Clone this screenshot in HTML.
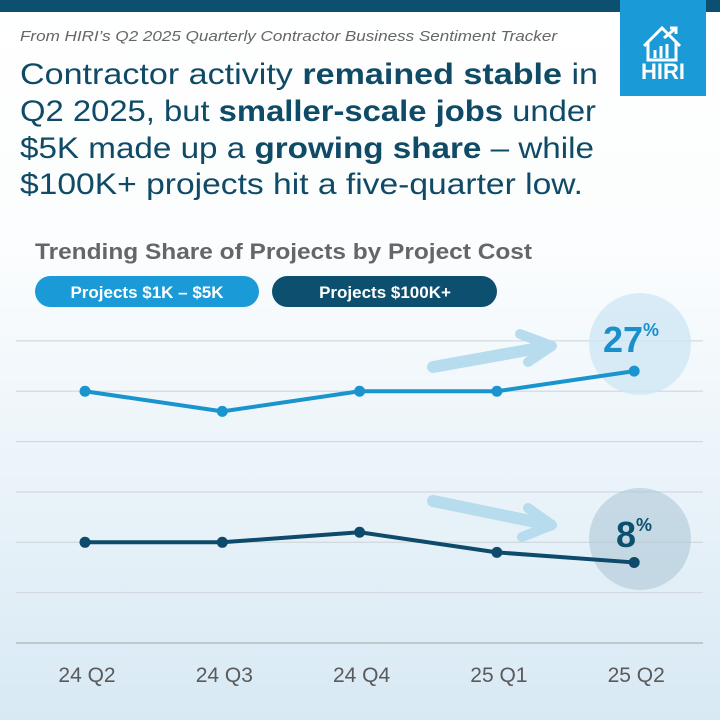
<!DOCTYPE html>
<html><head><meta charset="utf-8"><style>
body{margin:0;width:720px;height:720px;overflow:hidden}
svg{display:block;font-family:"Liberation Sans",sans-serif}
</style></head><body>
<svg id="chart" width="720" height="720" viewBox="0 0 720 720" xmlns="http://www.w3.org/2000/svg">
<defs>
<linearGradient id="bg" x1="0" y1="0" x2="0" y2="1">
<stop offset="0" stop-color="#ffffff"/><stop offset="0.35" stop-color="#fbfdfe"/><stop offset="1" stop-color="#d8e9f4"/>
</linearGradient>
</defs>
<rect width="720" height="720" fill="url(#bg)"/>
<rect x="0" y="0" width="720" height="12" fill="#0d4f6e"/>
<g>
<rect x="620" y="0" width="86" height="96" fill="#1a9ad6"/>
<path d="M644 46 L662 28 L680 46 M648 42 L648 60 L676 60 L676 42 M655 58 L655 50 M661 58 L661 46 M667 58 L667 44 M664 38 L676 28 M670 28 L676 28 L676 34" fill="none" stroke="#fff" stroke-width="3"/>
<text x="663" y="79" text-anchor="middle" font-size="22" font-weight="bold" fill="#fff">HIRI</text>
</g>
<text x="20" y="41" font-size="14.5" font-style="italic" fill="#666" textLength="537" lengthAdjust="spacingAndGlyphs">From HIRI’s Q2 2025 Quarterly Contractor Business Sentiment Tracker</text>
<g font-size="30" fill="#0f4a66">
<text x="20" y="84" textLength="578" lengthAdjust="spacingAndGlyphs">Contractor activity <tspan font-weight="bold">remained stable</tspan> in</text>
<text x="20" y="121" textLength="576" lengthAdjust="spacingAndGlyphs">Q2 2025, but <tspan font-weight="bold">smaller-scale jobs</tspan> under</text>
<text x="20" y="158" textLength="574" lengthAdjust="spacingAndGlyphs">$5K made up a <tspan font-weight="bold">growing share</tspan> – while</text>
<text x="20" y="194" textLength="563" lengthAdjust="spacingAndGlyphs">$100K+ projects hit a five-quarter low.</text>
</g>
<text x="35" y="259" font-size="22" font-weight="bold" fill="#666" textLength="497" lengthAdjust="spacingAndGlyphs">Trending Share of Projects by Project Cost</text>
<g>
<rect x="35" y="276" width="224" height="31" rx="15.5" fill="#1a9ad6"/>
<text x="147" y="298" text-anchor="middle" font-size="17" font-weight="bold" fill="#fff">Projects $1K – $5K</text>
</g>
<g>
<rect x="272" y="276" width="225" height="31" rx="15.5" fill="#0d4f6e"/>
<text x="385" y="298" text-anchor="middle" font-size="17" font-weight="bold" fill="#fff">Projects $100K+</text>
</g>
<g id="grid"></g>
<g>
<circle cx="640" cy="344" r="51" fill="#cfe7f4" opacity="0.8"/>
<path d="M433 367 L550 346" stroke="#b6dcee" stroke-width="12" stroke-linecap="round" fill="none"/>
<path d="M520 334 L552 346 L528 362" stroke="#b6dcee" stroke-width="10" stroke-linecap="round" stroke-linejoin="round" fill="none"/>
<text x="603" y="352" font-size="36" font-weight="bold" fill="#1a8fcc">27<tspan font-size="18" dy="-16">%</tspan></text>
</g>
<g>
<circle cx="640" cy="539" r="51" fill="#a9c4d6" opacity="0.55"/>
<path d="M433 501 L550 525" stroke="#b6dcee" stroke-width="12" stroke-linecap="round" fill="none"/>
<path d="M528 508 L552 525 L522 537" stroke="#b6dcee" stroke-width="10" stroke-linecap="round" stroke-linejoin="round" fill="none"/>
<text x="616" y="547" font-size="36" font-weight="bold" fill="#0d4f6e">8<tspan font-size="18" dy="-16">%</tspan></text>
</g>
<g id="series"></g>
<g id="xaxis"></g>
</svg>
<script>
const categories = ["24 Q2","24 Q3","24 Q4","25 Q1","25 Q2"];
const smallJobs = [25,23,25,25,27];
const largeJobs = [10,10,11,9,8];
const gridTicks = [0,5,10,15,20,25,30];
const NS="http://www.w3.org/2000/svg";
function x(i){return 85+i*137.3;}
function y(v){return 643-v*10.07;}
const grid=document.getElementById('grid');
gridTicks.forEach(t=>{
 const l=document.createElementNS(NS,'line');
 
 
 l.setAttribute('x1',16);l.setAttribute('x2',703);
 l.setAttribute('y1',y(t));l.setAttribute('y2',y(t));
 l.setAttribute('stroke',t===0?'#aab4bc':'#d3dbe1');l.setAttribute('stroke-width',1.3);
 grid.appendChild(l);
});
const ser=document.getElementById('series');
function draw(vals,color,name){
 const p=document.createElementNS(NS,'polyline');
 
 
 p.setAttribute('points',vals.map((v,i)=>x(i)+','+y(v)).join(' '));
 p.setAttribute('fill','none');p.setAttribute('stroke',color);p.setAttribute('stroke-width',4);p.setAttribute('stroke-linejoin','round');
 ser.appendChild(p);
 vals.forEach((v,i)=>{
  const c=document.createElementNS(NS,'circle');
  
  
  c.setAttribute('cx',x(i));c.setAttribute('cy',y(v));c.setAttribute('r',5.5);c.setAttribute('fill',color);
  ser.appendChild(c);
 });
}
draw(smallJobs,'#1a94cf','small-jobs');
draw(largeJobs,'#0d4a6b','large-jobs');
const xa=document.getElementById('xaxis');
categories.forEach((c,i)=>{
 const t=document.createElementNS(NS,'text');
 
 
 t.setAttribute('x',x(i)+2);t.setAttribute('y',682);t.setAttribute('text-anchor','middle');
 t.setAttribute('font-size',21);t.setAttribute('fill','#5a5a5a');
 t.textContent=c;xa.appendChild(t);
});
</script>
</body></html>
